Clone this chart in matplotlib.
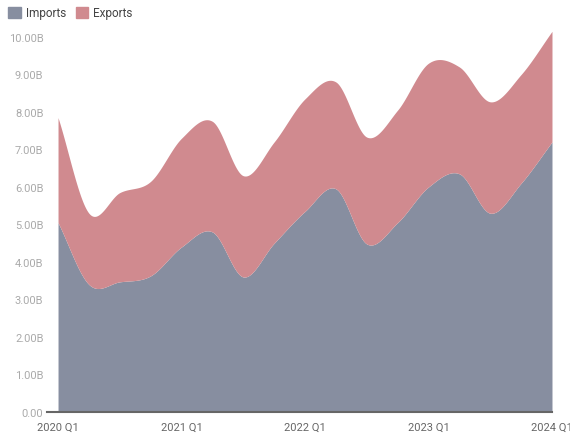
import numpy as np
import matplotlib.pyplot as plt
from matplotlib.patches import Patch
from matplotlib.lines import Line2D

plt.rcParams['font.family'] = ['Roboto', 'DejaVu Sans']

quarters = ['2020 Q1', '2020 Q2', '2020 Q3', '2020 Q4',
            '2021 Q1', '2021 Q2', '2021 Q3', '2021 Q4',
            '2022 Q1', '2022 Q2', '2022 Q3', '2022 Q4',
            '2023 Q1', '2023 Q2', '2023 Q3', '2023 Q4',
            '2024 Q1']
imports = [5.05, 3.40, 3.47, 3.63, 4.40, 4.80, 3.60, 4.50, 5.35,
           5.95, 4.48, 5.05, 6.00, 6.35, 5.30, 6.10, 7.20]
exports = [2.80, 1.90, 2.38, 2.52, 2.90, 2.95, 2.70, 2.70, 3.00,
           2.85, 2.85, 3.00, 3.30, 2.85, 2.97, 2.90, 2.95]
tick_labels = ['2020 Q1', '2021 Q1', '2022 Q1', '2023 Q1', '2024 Q1']

grey = '#878EA0'
red = '#D08A8F'


def smooth(y, n=30):
    # catmull-rom through the quarterly points
    y = np.asarray(y, dtype=float)
    m = np.gradient(y)
    xs, ys = [], []
    for i in range(len(y) - 1):
        t = np.linspace(0, 1, n, endpoint=False)
        h00 = 2 * t**3 - 3 * t**2 + 1
        h10 = t**3 - 2 * t**2 + t
        h01 = -2 * t**3 + 3 * t**2
        h11 = t**3 - t**2
        xs.append(i + t)
        ys.append(h00 * y[i] + h10 * m[i] + h01 * y[i + 1] + h11 * m[i + 1])
    xs.append([len(y) - 1])
    ys.append([y[-1]])
    return np.concatenate(xs), np.concatenate(ys)


total = np.array(imports) + np.array(exports)
xi, yi = smooth(imports)
xt, yt = smooth(total)

fig = plt.figure(figsize=(5.7, 4.35), dpi=100)
ax = fig.add_axes([0.1018, 0.0506, 0.8666, 0.8794])

ax.fill_between(xi, 0, yi, color=grey, lw=0)
ax.fill_between(xt, yi, yt, color=red, lw=0)

ax.set_xlim(0, len(quarters) - 1)
ax.set_ylim(0, 10.2)

ax.set_xticks([quarters.index(q) for q in tick_labels])
ax.set_xticklabels(tick_labels, color='#666666', fontsize=8)
yt_vals = np.arange(0, 11)
ax.set_yticks(yt_vals)
ax.set_yticklabels(['0.00'] + ['%.2fB' % v for v in yt_vals[1:]],
                   color='#aaaaaa', fontsize=8)
ax.tick_params(axis='both', length=0)
ax.tick_params(axis='x', pad=7)
ax.tick_params(axis='y', pad=10.5)

for s in ['top', 'right', 'left', 'bottom']:
    ax.spines[s].set_visible(False)
ax.add_line(Line2D([-0.022, 1.0], [0, 0], transform=ax.transAxes,
                   color='#666666', lw=1.5, clip_on=False))

handles = [Patch(color=grey), Patch(color=red)]
fig.legend(handles, ['Imports', 'Exports'], loc='upper left',
           bbox_to_anchor=(-0.004, 1.008), ncol=2, frameon=False,
           handlelength=1.05, handleheight=1.05, handletextpad=0.45,
           columnspacing=0.8, fontsize=8.5, labelcolor='#444444')

fig.savefig('out.png', dpi=100)
